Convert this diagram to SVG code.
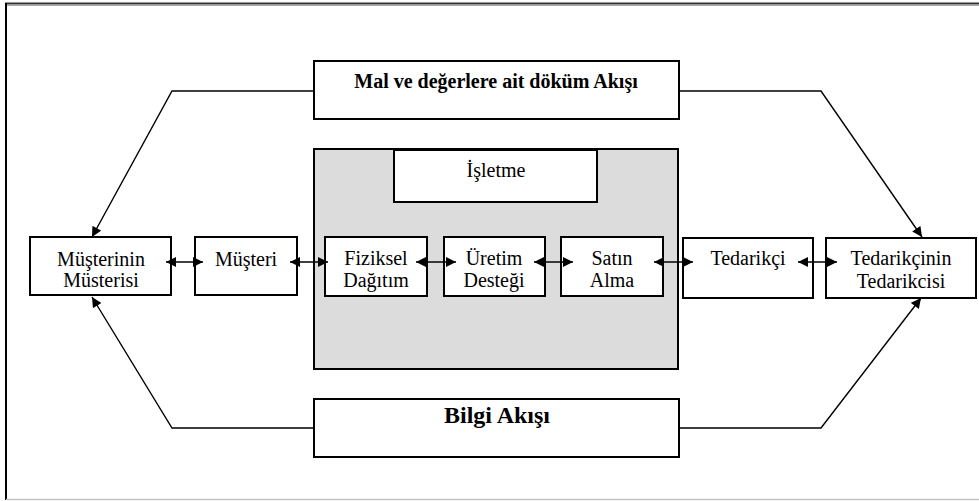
<svg xmlns="http://www.w3.org/2000/svg" width="979" height="501" viewBox="0 0 979 501">
  <defs>
    <marker id="arrow" viewBox="0 0 10 10" refX="10" refY="5" markerWidth="11" markerHeight="10" markerUnits="userSpaceOnUse" orient="auto-start-reverse">
      <path d="M0,0 L10,5 L0,10 z" fill="#000"/>
    </marker>
    <style>
      .box { fill: #fff; stroke: #000; stroke-width: 2; }
      .org { fill: #dcdcdc; stroke: #000; stroke-width: 2; }
      text { font-family: "Liberation Serif", Tinos, "Times New Roman", "Nimbus Roman", "DejaVu Serif", serif; }
      .lbl { font-size: 20px; fill: #000; text-anchor: middle; }
      .ttl { font-weight: bold; fill: #000; text-anchor: middle; }
      .link { fill: none; stroke: #000; stroke-width: 1.4; }
      .dbl { marker-start: url(#arrow); marker-end: url(#arrow); }
      .one { marker-end: url(#arrow); }
    </style>
  </defs>

  <!-- page frame -->
  <rect x="0" y="0" width="979" height="501" fill="#fff"/>
  <line x1="5" y1="3.5" x2="979" y2="3.5" stroke="#333" stroke-width="2"/>
  <line x1="5" y1="5.5" x2="979" y2="5.5" stroke="#aaa" stroke-width="1"/>
  <line x1="6" y1="3" x2="6" y2="500" stroke="#000" stroke-width="2"/>
  <line x1="6" y1="499.5" x2="979" y2="499.5" stroke="#c4c4c4" stroke-width="1.5"/>

  <!-- company container -->
  <g id="isletme-area">
    <rect class="org" x="314" y="149" width="364" height="220"/>
  </g>
  <g id="isletme">
    <rect class="box" x="394" y="150" width="203" height="52"/>
    <text class="lbl" x="496" y="177">İşletme</text>
  </g>

  <!-- flow boxes -->
  <g id="mal-akisi">
    <rect class="box" x="314" y="61" width="365" height="58"/>
    <text class="ttl" x="496" y="88" font-size="20">Mal ve değerlere ait döküm Akışı</text>
  </g>
  <g id="bilgi-akisi">
    <rect class="box" x="314" y="399" width="365" height="58"/>
    <text class="ttl" x="497" y="423" font-size="24">Bilgi Akışı</text>
  </g>

  <!-- chain nodes -->
  <g id="musterinin-musterisi">
    <rect class="box" x="30" y="237" width="141" height="58"/>
    <text class="lbl" x="101" y="266">Müşterinin</text>
    <text class="lbl" x="101" y="287">Müsterisi</text>
  </g>
  <g id="musteri">
    <rect class="box" x="195" y="237" width="102" height="58"/>
    <text class="lbl" x="246" y="266">Müşteri</text>
  </g>
  <g id="fiziksel-dagitim">
    <rect class="box" x="325" y="237" width="102" height="59"/>
    <text class="lbl" x="376" y="265">Fiziksel</text>
    <text class="lbl" x="376" y="287">Dağıtım</text>
  </g>
  <g id="uretim-destegi">
    <rect class="box" x="444" y="237" width="101" height="59"/>
    <text class="lbl" x="494" y="265">Üretim</text>
    <text class="lbl" x="494" y="287">Desteği</text>
  </g>
  <g id="satin-alma">
    <rect class="box" x="561" y="237" width="102" height="59"/>
    <text class="lbl" x="612" y="265">Satın</text>
    <text class="lbl" x="612" y="287">Alma</text>
  </g>
  <g id="tedarikci">
    <rect class="box" x="683" y="238" width="130" height="60"/>
    <text class="lbl" x="748" y="265">Tedarikçi</text>
  </g>
  <g id="tedarikcinin-tedarikcisi">
    <rect class="box" x="826" y="238" width="150" height="60"/>
    <text class="lbl" x="901" y="265">Tedarikçinin</text>
    <text class="lbl" x="901" y="288">Tedarikcisi</text>
  </g>

  <!-- connectors -->
  <g id="connectors">
    <line class="link dbl" x1="166" y1="262" x2="203" y2="262"/>
    <line class="link dbl" x1="290" y1="262" x2="328" y2="262"/>
    <line class="link dbl" x1="416" y1="262" x2="456" y2="262"/>
    <line class="link dbl" x1="534" y1="262" x2="573" y2="262"/>
    <line class="link dbl" x1="654" y1="262" x2="693" y2="262"/>
    <line class="link dbl" x1="798" y1="262" x2="837" y2="262"/>

    <path class="link one" d="M314,91 H172 L92,237"/>
    <path class="link one" d="M679,91 H821 L922,237"/>
    <path class="link one" d="M314,428 H172 L92,297"/>
    <path class="link one" d="M679,428 H821 L921,298"/>
  </g>
</svg>
